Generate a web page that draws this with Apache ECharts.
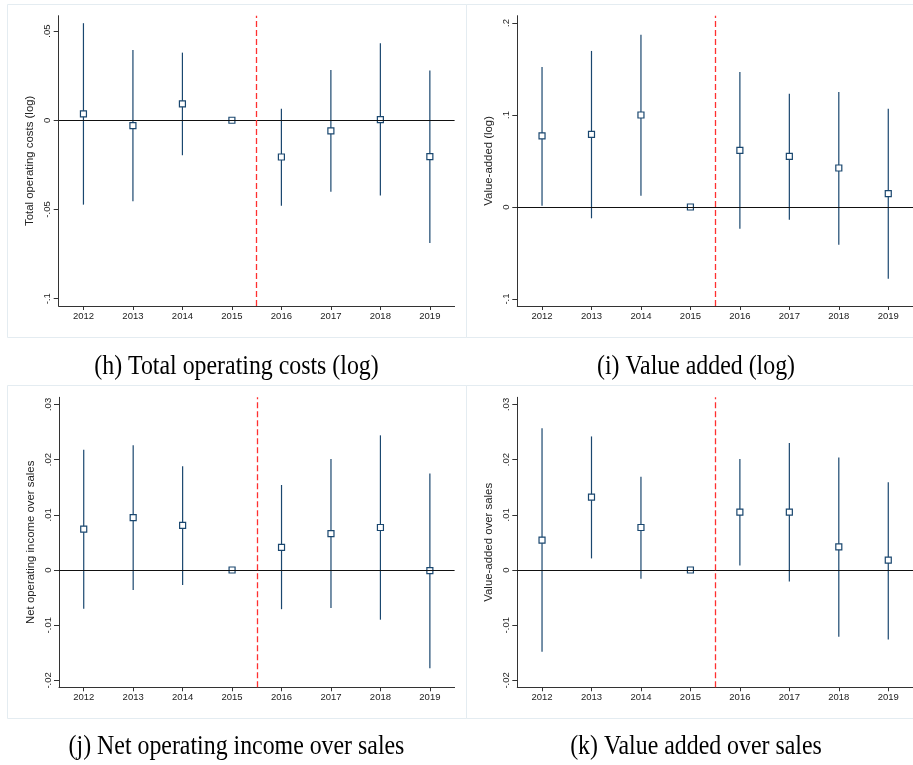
<!DOCTYPE html>
<html>
<head>
<meta charset="utf-8">
<script src="https://cdn.jsdelivr.net/npm/echarts@6/dist/echarts.min.js"></script>
<style>
html,body{margin:0;padding:0;background:#fff;}
#chart{width:913px;height:765px;}
</style>
</head>
<body>
<div id="chart"></div>
<script>
// ---- data ----
const years = [2012, 2013, 2014, 2015, 2016, 2017, 2018, 2019];
const eventLine = 2015.5;

const hCoef = [0.0036, -0.0030, 0.0092, 0, -0.0206, -0.0060, 0.0004, -0.0204];
const hLo   = [-0.0473, -0.0454, -0.0196, null, -0.0479, -0.0400, -0.0422, -0.0688];
const hHi   = [0.0544, 0.0394, 0.0379, null, 0.0065, 0.0282, 0.0432, 0.0279];

const iCoef = [0.0772, 0.0790, 0.1000, 0, 0.0616, 0.0551, 0.0424, 0.0145];
const iLo   = [0.0014, -0.0123, 0.0123, null, -0.0236, -0.0138, -0.0409, -0.0779];
const iHi   = [0.1522, 0.1696, 0.1873, null, 0.1467, 0.1232, 0.1250, 0.1069];

const jCoef = [0.0074, 0.0095, 0.0081, 0, 0.0041, 0.0066, 0.0077, -0.0001];
const jLo   = [-0.0070, -0.0036, -0.0027, null, -0.0071, -0.0069, -0.0090, -0.0178];
const jHi   = [0.0218, 0.0226, 0.0188, null, 0.0154, 0.0201, 0.0244, 0.0175];

const kCoef = [0.0054, 0.0132, 0.0077, 0, 0.0105, 0.0105, 0.0042, 0.0018];
const kLo   = [-0.0148, 0.0021, -0.0016, null, 0.0008, -0.0021, -0.0121, -0.0126];
const kHi   = [0.0257, 0.0242, 0.0169, null, 0.0201, 0.0230, 0.0204, 0.0159];

const hTicks  = [-0.1, -0.05, 0, 0.05];
const iTicks  = [-0.1, 0, 0.1, 0.2];
const jkTicks = [-0.02, -0.01, 0, 0.01, 0.02, 0.03];

const yNames = ['Total operating costs (log)', 'Value-added (log)', 'Net operating income over sales', 'Value-added over sales'];
const captions = ['(h) Total operating costs (log)', '(i) Value added (log)', '(j) Net operating income over sales', '(k) Value added over sales'];

// ---- styling / layout ----
const NAVY = '#1a476f';
const panels = [
  {coef: hCoef, lo: hLo, hi: hHi, ticks: hTicks, min: -0.1041, max: 0.0586, grid: {left: 58.7, top: 15.7, width: 395.9, height: 290.3}},
  {coef: iCoef, lo: iLo, hi: iHi, ticks: iTicks, min: -0.1076, max: 0.2079, grid: {left: 517.3, top: 15.7, width: 395.8, height: 290.3}},
  {coef: jCoef, lo: jLo, hi: jHi, ticks: jkTicks, min: -0.02125, max: 0.03129, grid: {left: 59, top: 397.3, width: 395.6, height: 290}},
  {coef: kCoef, lo: kLo, hi: kHi, ticks: jkTicks, min: -0.02125, max: 0.03129, grid: {left: 517.3, top: 397.3, width: 395.8, height: 290}}
];

function fmt(v) {
  let s = String(+(+v).toFixed(4));
  return s.replace(/^0\./, '.').replace(/^-0\./, '-.');
}

function errRender(params, api) {
  const x = api.value(0), lo = api.value(1), hi = api.value(2);
  const p1 = api.coord([x, lo]), p2 = api.coord([x, hi]);
  return {
    type: 'line',
    shape: {x1: p1[0], y1: p1[1], x2: p2[0], y2: p2[1]},
    style: {stroke: NAVY, lineWidth: 1.2}
  };
}

const grids = [], xAxes = [], yAxes = [], series = [];
panels.forEach((p, n) => {
  grids.push(Object.assign({containLabel: false}, p.grid));
  xAxes.push({
    type: 'value', gridIndex: n, min: 2011.5, max: 2019.5,
    splitLine: {show: false},
    axisLine: {show: true, onZero: false, lineStyle: {color: '#333', width: 1}},
    axisTick: {show: true, length: 4, customValues: years, lineStyle: {color: '#333'}},
    axisLabel: {customValues: years, fontFamily: 'Liberation Sans', fontSize: 9.5, color: '#222', margin: 5, formatter: v => String(v)}
  });
  yAxes.push({
    type: 'value', gridIndex: n, min: p.min, max: p.max,
    name: yNames[n], nameLocation: 'middle', nameGap: 23, nameRotate: 90,
    nameTextStyle: {fontFamily: 'Liberation Sans', fontSize: 11.4, color: '#222'},
    splitLine: {show: false},
    axisLine: {show: true, onZero: false, lineStyle: {color: '#333', width: 1}},
    axisTick: {show: true, length: 5, customValues: p.ticks, lineStyle: {color: '#333'}},
    axisLabel: {customValues: p.ticks, rotate: 90, fontFamily: 'Liberation Sans', fontSize: 9.5, color: '#222', margin: 6, formatter: fmt}
  });
  const errData = [];
  years.forEach((y, i) => { if (p.lo[i] !== null) errData.push([y, p.lo[i], p.hi[i]]); });
  series.push({
    type: 'custom', xAxisIndex: n, yAxisIndex: n, z: 2,
    renderItem: errRender, encode: {x: 0, y: [1, 2]}, data: errData, silent: true,
    markLine: {
      silent: true, symbol: 'none', label: {show: false}, animation: false,
      data: [
        {yAxis: 0, lineStyle: {color: '#111', width: 1, type: 'solid'}},
        {xAxis: eventLine, lineStyle: {color: '#ff3030', width: 1.3, type: [6, 3]}}
      ]
    }
  });
  series.push({
    type: 'scatter', xAxisIndex: n, yAxisIndex: n, z: 3,
    symbol: 'rect', symbolSize: 6,
    itemStyle: {color: '#fff', borderColor: NAVY, borderWidth: 1.2, opacity: 1},
    data: years.map((y, i) => [y, p.coef[i]])
  });
});

const BORDER = '#e4ecf1';
const graphic = [
  {type: 'rect', shape: {x: 7.5, y: 4.5, width: 459, height: 333}, style: {fill: 'none', stroke: BORDER, lineWidth: 1}, silent: true, z: -1},
  {type: 'rect', shape: {x: 466.5, y: 4.5, width: 470, height: 333}, style: {fill: 'none', stroke: BORDER, lineWidth: 1}, silent: true, z: -1},
  {type: 'rect', shape: {x: 7.5, y: 385.5, width: 459, height: 333}, style: {fill: 'none', stroke: BORDER, lineWidth: 1}, silent: true, z: -1},
  {type: 'rect', shape: {x: 466.5, y: 385.5, width: 470, height: 333}, style: {fill: 'none', stroke: BORDER, lineWidth: 1}, silent: true, z: -1}
];
const capPos = [[236.5, 367], [696, 367], [236.5, 747], [696, 747]];
captions.forEach((c, n) => {
  graphic.push({
    type: 'text', x: capPos[n][0], y: capPos[n][1], scaleX: 0.9, silent: true,
    style: {text: c, fontFamily: 'Liberation Serif', fontSize: 26.5, fill: '#000', align: 'center', verticalAlign: 'middle'}
  });
});

const chart = echarts.init(document.getElementById('chart'), null, {renderer: 'canvas'});
chart.setOption({
  animation: false,
  backgroundColor: '#fff',
  grid: grids, xAxis: xAxes, yAxis: yAxes, series: series, graphic: graphic
});
</script>
</body>
</html>
